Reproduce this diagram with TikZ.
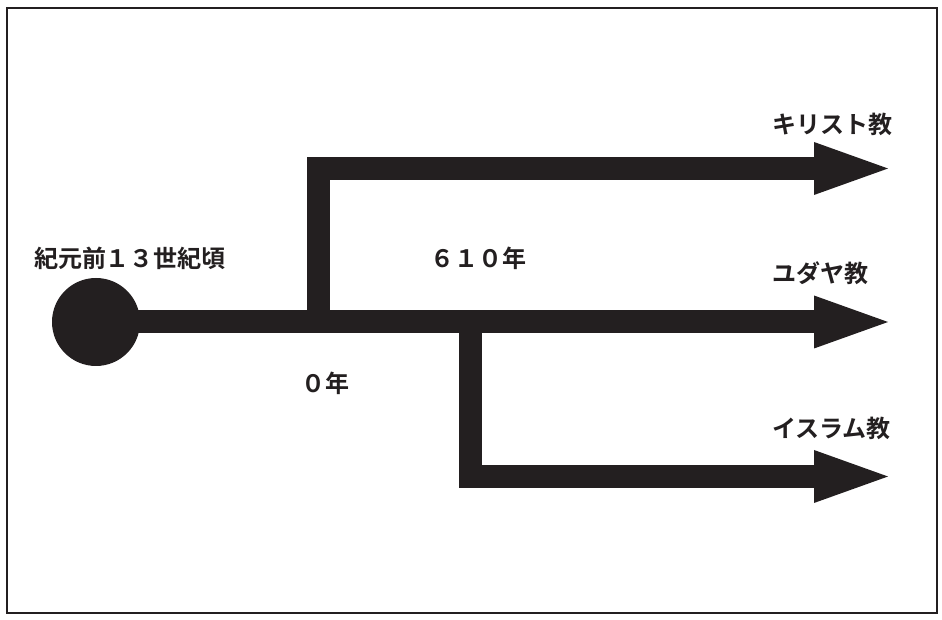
\documentclass[tikz,border=0pt]{standalone}
\usepackage{fontspec}
\newfontfamily\jp{Noto Sans CJK JP Bold}
\definecolor{ink}{HTML}{231F20}
\begin{document}
\begin{tikzpicture}[x=1pt,y=1pt,
  shaft/.style={draw=ink,line width=23pt,line join=miter,line cap=butt},
  head/.style={fill=ink},
  lbl/.style={font=\jp\fontsize{24}{27}\selectfont,text=ink,inner sep=0pt}]
\useasboundingbox (0,0) rectangle (942,620);
\draw[ink,line width=1.6pt] (7,612) rectangle (937,7);
% origin dot
\node[circle,fill=ink,minimum size=88pt,inner sep=0pt] (origin) at (96,298) {};
% coordinates
\coordinate (j1) at (318,298);
\coordinate (j2) at (470,298);
\coordinate (b1) at (814,451.5);
\coordinate (b2) at (814,298);
\coordinate (b3) at (814,143.5);
\coordinate (t1) at (888,451.5);
\coordinate (t2) at (888,298);
\coordinate (t3) at (888,143.5);
% shafts
\draw[shaft] (origin.center) -- (b2);
\draw[shaft] (j1) |- (b1);
\draw[shaft] (j2) |- (b3);
% heads
\fill[head] ([yshift=26.5pt]b1) -- (t1) -- ([yshift=-26.5pt]b1) -- cycle;
\fill[head] ([yshift=26.5pt]b2) -- (t2) -- ([yshift=-26.5pt]b2) -- cycle;
\fill[head] ([yshift=26.5pt]b3) -- (t3) -- ([yshift=-26.5pt]b3) -- cycle;
% labels
\node[lbl] (start) at (130,362) {紀元前１３世紀頃};
\node[lbl] (y610) at (478,362) {６１０年};
\node[lbl] (y0) at (325,237) {０年};
\node[lbl,anchor=west] (chr) at (772,496) {キリスト教};
\node[lbl,anchor=west] (jud) at (772,347) {ユダヤ教};
\node[lbl,anchor=west] (isl) at (772,192) {イスラム教};
\end{tikzpicture}
\end{document}
